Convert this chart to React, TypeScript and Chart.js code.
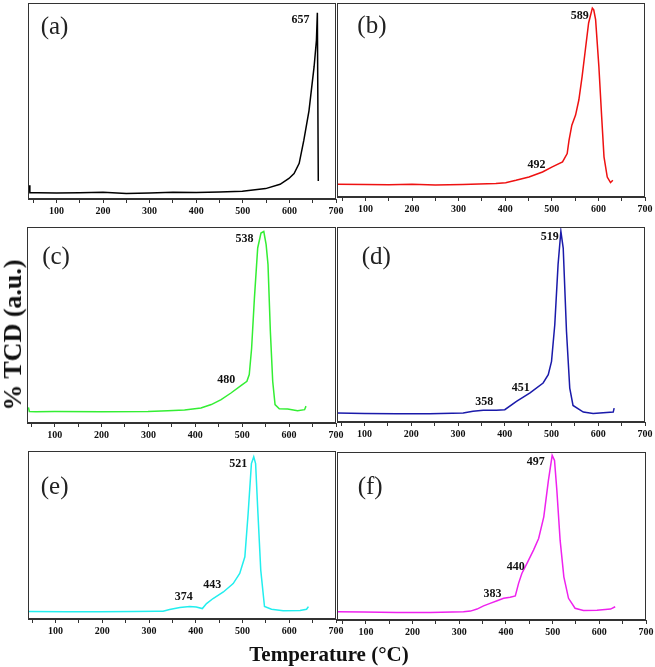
import React, { useEffect, useRef } from 'react';
import { Chart, registerables } from 'chart.js';

Chart.register(...registerables);

// ---- data (temperature °C, TCD signal in % of panel height) ----
const tempA = [42, 43, 60, 100, 150, 200, 250, 300, 350, 400, 450, 499, 549, 580, 599, 610, 621, 631, 642, 653, 658, 660, 662];
const sigA = [7, 3.2, 3.2, 3.0, 3.2, 3.4, 2.8, 3.0, 3.4, 3.3, 3.6, 4.0, 5.3, 7.5, 10.5, 13, 18.2, 30, 45, 67.5, 81, 95, 9.2];

const tempB = [39, 100, 150, 200, 250, 309, 344, 380, 401, 423, 451, 480, 501, 523, 533, 537, 543, 551, 558, 565, 572, 579, 587, 590, 594, 601, 607, 612, 619, 626, 631];
const sigB = [6.6, 6.4, 6.3, 6.6, 6.2, 6.5, 6.7, 6.9, 7.4, 8.6, 10.3, 12.9, 15.5, 18.1, 22.4, 29.3, 37, 42.2, 50, 62, 75.9, 89.7, 97.4, 96.5, 91.4, 67.3, 41.4, 20.7, 10.3, 7.4, 8.6];

const tempC = [44, 46, 60, 100, 200, 299, 341, 377, 412, 434, 455, 476, 498, 510, 515, 520, 526, 533, 540, 546, 551, 555, 560, 565, 570, 579, 597, 618, 633, 636];
const sigC = [8, 5.9, 5.8, 5.9, 5.8, 5.9, 6.3, 6.6, 7.7, 9.4, 11.9, 15.3, 19.2, 21.3, 24.7, 38, 63.7, 89.3, 96.9, 97.7, 91, 80.8, 46.8, 21.3, 9.4, 7.3, 7.2, 6.3, 6.8, 8.6];

const tempD = [41, 100, 168, 239, 311, 332, 354, 382, 400, 425, 454, 482, 493, 500, 507, 514, 520, 525, 532, 539, 546, 568, 589, 632, 634];
const sigD = [4.6, 4.4, 4.2, 4.2, 4.6, 5.5, 6, 6, 6.3, 10.6, 14.9, 20, 24.3, 31.1, 50, 80.7, 97.8, 89.2, 46.5, 17.4, 8.5, 5.1, 4.4, 5.1, 7.1];

const tempE = [43, 123, 194, 266, 316, 330, 344, 366, 387, 401, 414, 423, 437, 459, 480, 494, 505, 512, 519, 524, 528, 533, 539, 547, 562, 587, 623, 637, 641];
const sigE = [4.4, 4.3, 4.3, 4.4, 4.6, 4.6, 5.6, 6.8, 7.4, 7.2, 6.2, 9.2, 12.2, 16.1, 21.1, 27.1, 37, 62.8, 92.5, 96.5, 92.5, 62.8, 29.1, 7.4, 5.8, 4.9, 5.1, 5.8, 7.4];

const tempF = [39, 95, 166, 238, 309, 324, 338, 352, 366, 381, 395, 409, 420, 427, 434, 445, 459, 470, 481, 491, 499, 504, 509, 516, 524, 534, 548, 566, 595, 624, 634];
const sigF = [4.9, 4.7, 4.4, 4.4, 4.9, 5.3, 6.5, 8.4, 9.9, 11.5, 12.9, 13.5, 14.3, 21.8, 27.7, 33.7, 41.6, 48.5, 61.4, 83.2, 98, 95, 77.2, 47.5, 25.7, 12.9, 7, 5.6, 5.8, 6.5, 7.9];

// peak annotations: text, temperature, signal
const peaksA = [{ t: '657', x: 624, y: 91.3 }];
const peaksB = [{ t: '589', x: 560, y: 93.6 }, { t: '492', x: 467, y: 16.4 }];
const peaksC = [{ t: '538', x: 505, y: 94 }, { t: '480', x: 466, y: 21.9 }];
const peaksD = [{ t: '519', x: 496, y: 94.7 }, { t: '451', x: 434, y: 17.4 }, { t: '358', x: 356, y: 10.2 }];
const peaksE = [{ t: '521', x: 491, y: 92.1 }, { t: '443', x: 435, y: 20.4 }, { t: '374', x: 374, y: 13.3 }];
const peaksF = [{ t: '497', x: 464, y: 94 }, { t: '440', x: 421, y: 31.7 }, { t: '383', x: 371, y: 15.4 }];

const letters = ['(a)', '(b)', '(c)', '(d)', '(e)', '(f)'];
const letterPos = [{ x: 96, y: 87.6 }, { x: 114, y: 88 }, { x: 103, y: 84.7 }, { x: 125, y: 84.6 }, { x: 98, y: 78.6 }, { x: 109, y: 79.2 }];
const colors = ['#000000', '#ee1111', '#33ee33', '#1a1aaa', '#22eeee', '#ee22ee'];

const xTicks = [50, 100, 150, 200, 250, 300, 350, 400, 450, 500, 550, 600, 650, 700];

// ---- layout (plot rectangles in page pixels) ----
const layouts = [
  { left: 28, top: 3, right: 336, bottom: 199, xMin: 39 },
  { left: 337, top: 3, right: 645, bottom: 197, xMin: 39 },
  { left: 27, top: 227, right: 336, bottom: 423, xMin: 41 },
  { left: 337, top: 227, right: 645, bottom: 422, xMin: 41 },
  { left: 28, top: 451, right: 336, bottom: 619, xMin: 41 },
  { left: 337, top: 452, right: 646, bottom: 620, xMin: 38 },
];

const series = [
  { temps: tempA, sig: sigA, peaks: peaksA },
  { temps: tempB, sig: sigB, peaks: peaksB },
  { temps: tempC, sig: sigC, peaks: peaksC },
  { temps: tempD, sig: sigD, peaks: peaksD },
  { temps: tempE, sig: sigE, peaks: peaksE },
  { temps: tempF, sig: sigF, peaks: peaksF },
];

const PAD_L = 14;
const PAD_R = 14;
const PAD_T = 4;
const AXIS_H = 24;
const SERIF = '"Liberation Serif", "Times New Roman", serif';

function Panel({ idx }: { idx: number }) {
  const ref = useRef<HTMLCanvasElement | null>(null);
  const L = layouts[idx];
  const S = series[idx];
  const w = L.right - L.left + PAD_L + PAD_R;
  const h = L.bottom - L.top + PAD_T + AXIS_H;

  useEffect(() => {
    if (!ref.current) return;
    const boxAndLabels = {
      id: 'boxAndLabels',
      afterDatasetsDraw(chart: any) {
        const { ctx, chartArea, scales } = chart;
        ctx.save();
        ctx.strokeStyle = '#333';
        ctx.lineWidth = 1;
        ctx.strokeRect(chartArea.left + 0.5, chartArea.top + 0.5, chartArea.right - chartArea.left - 1, chartArea.bottom - chartArea.top - 1);
        ctx.fillStyle = '#111';
        ctx.textAlign = 'center';
        ctx.textBaseline = 'middle';
        ctx.font = `bold 12px ${SERIF}`;
        S.peaks.forEach((p) => {
          ctx.fillText(p.t, scales.x.getPixelForValue(p.x), scales.y.getPixelForValue(p.y));
        });
        ctx.font = `25px ${SERIF}`;
        ctx.fillStyle = '#222';
        const lp = letterPos[idx];
        ctx.fillText(letters[idx], scales.x.getPixelForValue(lp.x), scales.y.getPixelForValue(lp.y));
        ctx.restore();
      },
    };
    const chart = new Chart(ref.current, {
      type: 'line',
      data: {
        datasets: [
          {
            data: S.temps.map((t, i) => ({ x: t, y: S.sig[i] })),
            borderColor: colors[idx],
            borderWidth: 1.5,
            pointRadius: 0,
            tension: 0,
            fill: false,
          },
        ],
      },
      options: {
        animation: false,
        responsive: false,
        events: [],
        layout: { padding: { left: PAD_L, right: PAD_R, top: PAD_T, bottom: 0 } },
        plugins: { legend: { display: false }, tooltip: { enabled: false } },
        scales: {
          x: {
            type: 'linear',
            min: L.xMin,
            max: 700,
            afterBuildTicks: (scale: any) => {
              scale.ticks = xTicks.map((v) => ({ value: v }));
            },
            afterFit: (scale: any) => {
              scale.height = AXIS_H;
            },
            ticks: {
              autoSkip: false,
              maxRotation: 0,
              padding: 2,
              color: '#111',
              font: { family: SERIF, size: 10, weight: 'bold' },
              callback: (v: any) => (Number(v) % 100 === 0 ? String(v) : ''),
            },
            grid: { drawOnChartArea: false, drawTicks: true, tickLength: 4, color: '#333' },
            border: { display: true, color: '#333' },
          },
          y: { display: false, min: 0, max: 100 },
        },
      },
      plugins: [boxAndLabels],
    } as any);
    return () => chart.destroy();
  }, [idx]);

  return (
    <canvas
      ref={ref}
      width={w}
      height={h}
      style={{ position: 'absolute', left: L.left - PAD_L, top: L.top - PAD_T, width: w, height: h }}
    />
  );
}

export default function App() {
  return (
    <div style={{ position: 'fixed', left: 0, top: 0, width: 655, height: 667, background: '#fff', overflow: 'hidden' }}>
      {layouts.map((_, i) => (
        <Panel key={i} idx={i} />
      ))}
      <div
        style={{
          position: 'absolute',
          left: 13,
          top: 335,
          transform: 'translate(-50%, -50%) rotate(-90deg)',
          whiteSpace: 'nowrap',
          fontFamily: SERIF,
          fontWeight: 'bold',
          fontSize: 26,
          color: '#111',
          lineHeight: 1,
        }}
      >
        % TCD (a.u.)
      </div>
      <div
        style={{
          position: 'absolute',
          left: 329,
          top: 654,
          transform: 'translate(-50%, -50%)',
          whiteSpace: 'nowrap',
          fontFamily: SERIF,
          fontWeight: 'bold',
          fontSize: 21,
          color: '#111',
          lineHeight: 1,
        }}
      >
        Temperature (°C)
      </div>
    </div>
  );
}
